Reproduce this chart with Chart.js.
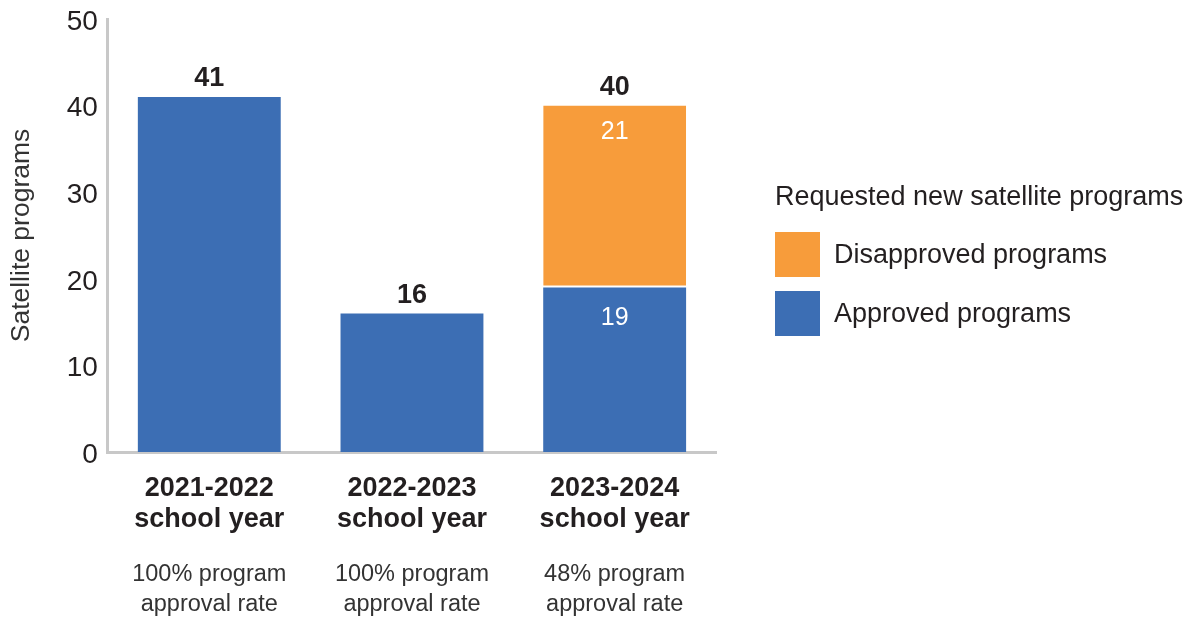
<!DOCTYPE html>
<html>
<head>
<meta charset="utf-8">
<script src="https://cdn.jsdelivr.net/npm/chart.js@4"></script>
<style>
  html, body { margin: 0; padding: 0; background: #fff; }
  #wrap { position: relative; width: 1189px; height: 624px; }
  #legend { position: absolute; left: 775px; top: 178px; font-family: "Liberation Sans", Arial, sans-serif; color: #231f20; }
  #legend .title { font-size: 27px; line-height: 36px; margin-bottom: 18px; white-space: nowrap; }
  #legend .item { display: flex; align-items: center; height: 45px; margin-bottom: 14px; font-size: 27px; white-space: nowrap; }
  #legend .box { width: 45px; height: 45px; margin-right: 14px; }
</style>
</head>
<body>
<div id="wrap">
  <canvas id="satellite" width="1189" height="624"></canvas>
  <div id="legend"></div>
</div>
<script>
// Satellite programs per school year: approved vs. disapproved requests

const schoolYears = [['2021-2022', 'school year'], ['2022-2023', 'school year'], ['2023-2024', 'school year']];
const approvalRates = [['100% program', 'approval rate'], ['100% program', 'approval rate'], ['48% program', 'approval rate']];
const approved = [41, 16, 19];
const disapproved = [0, 0, 21];
const yTicks = [0, 10, 20, 30, 40, 50];

const legendTitle = 'Requested new satellite programs';
const blue = '#3c6eb4';
const orange = '#f79c3b';
const ink = '#231f20';
const font = '"Liberation Sans", Arial, sans-serif';

// totals above each stack, values inside segments when a stack has two parts
const barLabels = {
  id: 'barLabels',
  afterDatasetsDraw(chart) {
    const ctx = chart.ctx;
    const metaA = chart.getDatasetMeta(0);
    const metaD = chart.getDatasetMeta(1);
    ctx.save();
    ctx.textAlign = 'center';
    ctx.textBaseline = 'middle';
    schoolYears.forEach((_, i) => {
      const barA = metaA.data[i];
      const barD = metaD.data[i];
      const total = approved[i] + disapproved[i];
      const top = disapproved[i] > 0 ? barD.y : barA.y;
      ctx.fillStyle = ink;
      ctx.font = 'bold 27px ' + font;
      ctx.fillText(total, barA.x, top - 18);
      if (disapproved[i] > 0) {
        ctx.fillStyle = '#fff';
        ctx.font = '25px ' + font;
        ctx.fillText(disapproved[i], barD.x, barD.y + 27);
        ctx.fillText(approved[i], barA.x, barA.y + 31);
      }
    });
    ctx.restore();
  }
};

const chart = new Chart(document.getElementById('satellite'), {
  type: 'bar',
  data: {
    labels: schoolYears,
    datasets: [{
      label: 'Approved programs',
      data: approved,
      backgroundColor: blue,
      xAxisID: 'x',
      barPercentage: 0.705,
      categoryPercentage: 1
    }, {
      label: 'Disapproved programs',
      data: disapproved,
      backgroundColor: orange,
      borderColor: '#fff',
      borderWidth: { bottom: 2 },
      borderSkipped: false,
      xAxisID: 'x',
      barPercentage: 0.705,
      categoryPercentage: 1
    }]
  },
  options: {
    responsive: false,
    animation: false,
    layout: { padding: { top: 19, left: 0, right: 473, bottom: 0 } },
    plugins: {
      legend: { display: false },
      tooltip: { enabled: false }
    },
    scales: {
      x: {
        stacked: true,
        grid: { display: false, drawTicks: false },
        border: { color: '#c8c8c8', width: 3 },
        ticks: {
          color: ink,
          padding: 21,
          font: { family: font, size: 27, weight: 'bold', lineHeight: '31px' }
        }
      },
      x2: {
        type: 'category',
        position: 'bottom',
        weight: 1,
        labels: approvalRates,
        grid: { display: false, drawTicks: false },
        border: { display: false },
        ticks: {
          color: '#333',
          padding: 4,
          font: { family: font, size: 23.5, lineHeight: '30px' }
        }
      },
      y: {
        stacked: true,
        min: 0,
        max: 50,
        afterBuildTicks(scale) { scale.ticks = yTicks.map(v => ({ value: v })); },
        grid: { display: false, drawTicks: false },
        border: { color: '#c8c8c8', width: 3 },
        ticks: {
          color: ink,
          padding: 10,
          labelOffset: 3,
          font: { family: font, size: 28, lineHeight: 0.5 }
        },
        title: {
          display: true,
          text: 'Satellite programs',
          color: '#333',
          padding: { top: 6, bottom: 19 },
          font: { family: font, size: 26.5 }
        }
      }
    }
  },
  plugins: [barLabels]
});

// legend, built from the same datasets (Disapproved listed first)
const legend = document.getElementById('legend');
legend.innerHTML = '<div class="title">' + legendTitle + '</div>' +
  chart.data.datasets.slice().reverse().map(ds =>
    '<div class="item"><span class="box" style="background:' + ds.backgroundColor + '"></span>' + ds.label + '</div>'
  ).join('');
</script>
</body>
</html>
